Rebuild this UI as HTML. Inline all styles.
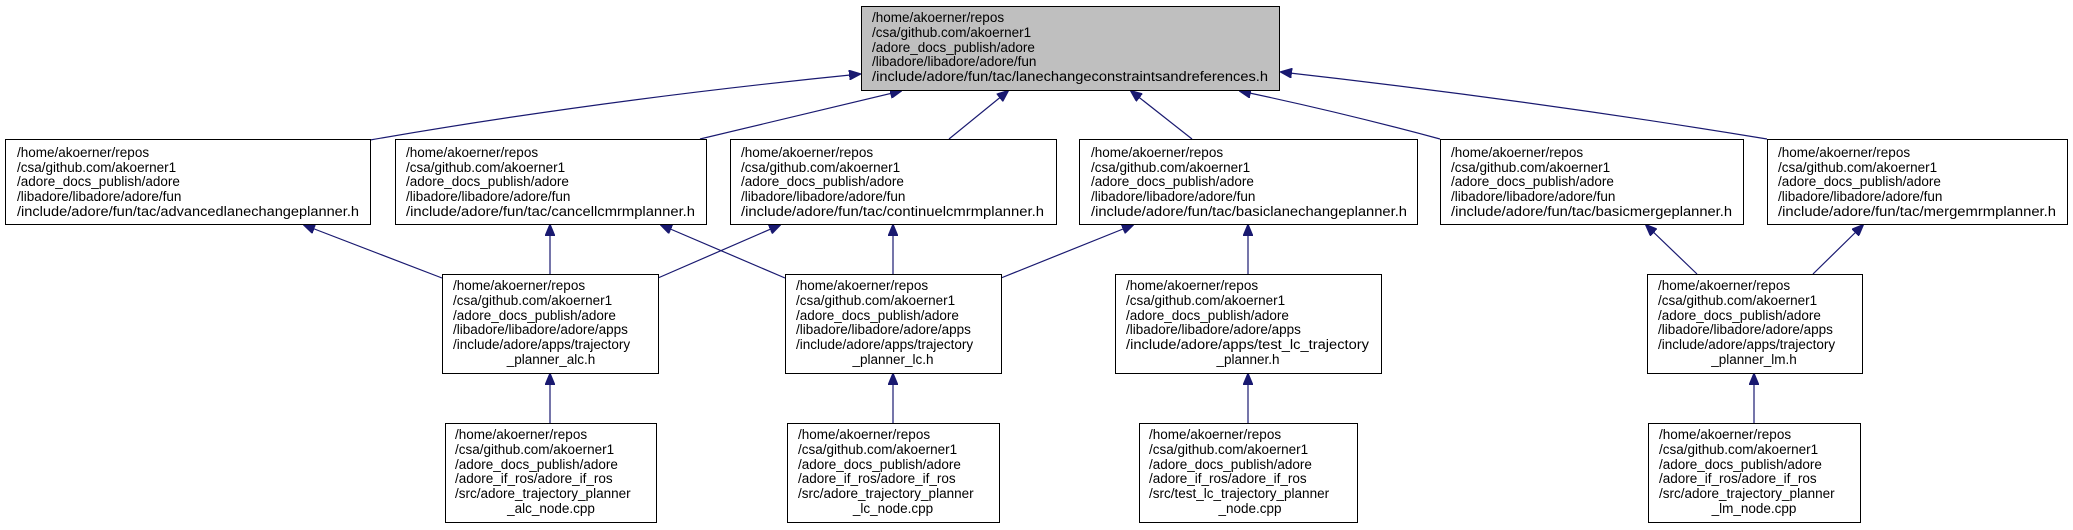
<!DOCTYPE html>
<html><head><meta charset="utf-8"><style>
html,body{margin:0;padding:0;background:#fff;}
svg text{font-family:"Liberation Sans","DejaVu Sans",sans-serif;font-size:13.5px;fill:#000;}
</style></head><body>
<svg width="2073" height="525" xmlns="http://www.w3.org/2000/svg">
<defs><marker id="a" markerWidth="12" markerHeight="10" refX="11" refY="5" orient="auto" markerUnits="userSpaceOnUse"><path d="M0,0 L12,5 L0,10 z" fill="#191970" stroke="#191970"/></marker></defs>
<g stroke="#191970" stroke-width="1.2" fill="none" marker-end="url(#a)">
<path d="M370,140 Q600,100 860,74"/>
<path d="M700,139 Q800,115 901,91"/>
<path d="M949,139 L1008,91"/>
<path d="M1192,139 L1131,91"/>
<path d="M1440,139 Q1340,112 1240,91"/>
<path d="M1767,139 Q1530,100 1281,72"/>
<path d="M442,278 L304,225"/>
<path d="M550,274 L550,225"/>
<path d="M785,278 L661,225"/>
<path d="M658,278 L780,225"/>
<path d="M893,274 L893,225"/>
<path d="M1001,278 L1133,225"/>
<path d="M1248,274 L1248,225"/>
<path d="M1697,274 L1646,225"/>
<path d="M1813,274 L1863,225"/>
<path d="M550,423 L550,374"/>
<path d="M893,423 L893,374"/>
<path d="M1248,423 L1248,374"/>
<path d="M1754,423 L1754,374"/>
</g>
<g stroke="#000" stroke-width="1">
<rect x="861.5" y="6.5" width="418" height="84" fill="#bfbfbf"/>
<rect x="5.5" y="139.5" width="365" height="85" fill="#fff"/>
<rect x="395.5" y="139.5" width="311" height="85" fill="#fff"/>
<rect x="730.5" y="139.5" width="326" height="85" fill="#fff"/>
<rect x="1079.5" y="139.5" width="338" height="85" fill="#fff"/>
<rect x="1440.5" y="139.5" width="303" height="85" fill="#fff"/>
<rect x="1767.5" y="139.5" width="300" height="85" fill="#fff"/>
<rect x="442.5" y="274.5" width="216" height="99" fill="#fff"/>
<rect x="785.5" y="274.5" width="216" height="99" fill="#fff"/>
<rect x="1115.5" y="274.5" width="266" height="99" fill="#fff"/>
<rect x="1647.5" y="274.5" width="215" height="99" fill="#fff"/>
<rect x="445.5" y="423.5" width="211" height="99" fill="#fff"/>
<rect x="787.5" y="423.5" width="212" height="99" fill="#fff"/>
<rect x="1139.5" y="423.5" width="218" height="99" fill="#fff"/>
<rect x="1648.5" y="423.5" width="212" height="99" fill="#fff"/>
</g>
<text x="872" y="22">/home/akoerner/repos</text><text x="872" y="37">/csa/github.com/akoerner1</text><text x="872" y="52">/adore_docs_publish/adore</text><text x="872" y="66">/libadore/libadore/adore/fun</text><text x="872" y="81" textLength="396" lengthAdjust="spacingAndGlyphs">/include/adore/fun/tac/lanechangeconstraintsandreferences.h</text>

<g>
<text x="17" y="157">/home/akoerner/repos</text><text x="17" y="172">/csa/github.com/akoerner1</text><text x="17" y="186">/adore_docs_publish/adore</text><text x="17" y="201">/libadore/libadore/adore/fun</text><text x="17" y="216" textLength="342" lengthAdjust="spacingAndGlyphs">/include/adore/fun/tac/advancedlanechangeplanner.h</text>
<text x="406" y="157">/home/akoerner/repos</text><text x="406" y="172">/csa/github.com/akoerner1</text><text x="406" y="186">/adore_docs_publish/adore</text><text x="406" y="201">/libadore/libadore/adore/fun</text><text x="406" y="216" textLength="289" lengthAdjust="spacingAndGlyphs">/include/adore/fun/tac/cancellcmrmplanner.h</text>
<text x="741" y="157">/home/akoerner/repos</text><text x="741" y="172">/csa/github.com/akoerner1</text><text x="741" y="186">/adore_docs_publish/adore</text><text x="741" y="201">/libadore/libadore/adore/fun</text><text x="741" y="216" textLength="303" lengthAdjust="spacingAndGlyphs">/include/adore/fun/tac/continuelcmrmplanner.h</text>
<text x="1091" y="157">/home/akoerner/repos</text><text x="1091" y="172">/csa/github.com/akoerner1</text><text x="1091" y="186">/adore_docs_publish/adore</text><text x="1091" y="201">/libadore/libadore/adore/fun</text><text x="1091" y="216" textLength="316" lengthAdjust="spacingAndGlyphs">/include/adore/fun/tac/basiclanechangeplanner.h</text>
<text x="1451" y="157">/home/akoerner/repos</text><text x="1451" y="172">/csa/github.com/akoerner1</text><text x="1451" y="186">/adore_docs_publish/adore</text><text x="1451" y="201">/libadore/libadore/adore/fun</text><text x="1451" y="216" textLength="281" lengthAdjust="spacingAndGlyphs">/include/adore/fun/tac/basicmergeplanner.h</text>
<text x="1778" y="157">/home/akoerner/repos</text><text x="1778" y="172">/csa/github.com/akoerner1</text><text x="1778" y="186">/adore_docs_publish/adore</text><text x="1778" y="201">/libadore/libadore/adore/fun</text><text x="1778" y="216" textLength="278" lengthAdjust="spacingAndGlyphs">/include/adore/fun/tac/mergemrmplanner.h</text>
</g>
<g>
<text x="453" y="290">/home/akoerner/repos</text><text x="453" y="305">/csa/github.com/akoerner1</text><text x="453" y="320">/adore_docs_publish/adore</text><text x="453" y="334">/libadore/libadore/adore/apps</text><text x="453" y="349">/include/adore/apps/trajectory</text><text x="551" y="364" text-anchor="middle">_planner_alc.h</text>
<text x="796" y="290">/home/akoerner/repos</text><text x="796" y="305">/csa/github.com/akoerner1</text><text x="796" y="320">/adore_docs_publish/adore</text><text x="796" y="334">/libadore/libadore/adore/apps</text><text x="796" y="349">/include/adore/apps/trajectory</text><text x="893" y="364" text-anchor="middle">_planner_lc.h</text>
<text x="1126" y="290">/home/akoerner/repos</text><text x="1126" y="305">/csa/github.com/akoerner1</text><text x="1126" y="320">/adore_docs_publish/adore</text><text x="1126" y="334">/libadore/libadore/adore/apps</text><text x="1126" y="349" textLength="243" lengthAdjust="spacingAndGlyphs">/include/adore/apps/test_lc_trajectory</text><text x="1248" y="364" text-anchor="middle">_planner.h</text>
<text x="1658" y="290">/home/akoerner/repos</text><text x="1658" y="305">/csa/github.com/akoerner1</text><text x="1658" y="320">/adore_docs_publish/adore</text><text x="1658" y="334">/libadore/libadore/adore/apps</text><text x="1658" y="349">/include/adore/apps/trajectory</text><text x="1754" y="364" text-anchor="middle">_planner_lm.h</text>
</g>
<g>
<text x="455" y="439">/home/akoerner/repos</text><text x="455" y="454">/csa/github.com/akoerner1</text><text x="455" y="469">/adore_docs_publish/adore</text><text x="455" y="483">/adore_if_ros/adore_if_ros</text><text x="455" y="498">/src/adore_trajectory_planner</text><text x="551" y="513" text-anchor="middle">_alc_node.cpp</text>
<text x="798" y="439">/home/akoerner/repos</text><text x="798" y="454">/csa/github.com/akoerner1</text><text x="798" y="469">/adore_docs_publish/adore</text><text x="798" y="483">/adore_if_ros/adore_if_ros</text><text x="798" y="498">/src/adore_trajectory_planner</text><text x="893" y="513" text-anchor="middle">_lc_node.cpp</text>
<text x="1149" y="439">/home/akoerner/repos</text><text x="1149" y="454">/csa/github.com/akoerner1</text><text x="1149" y="469">/adore_docs_publish/adore</text><text x="1149" y="483">/adore_if_ros/adore_if_ros</text><text x="1149" y="498">/src/test_lc_trajectory_planner</text><text x="1250" y="513" text-anchor="middle">_node.cpp</text>
<text x="1659" y="439">/home/akoerner/repos</text><text x="1659" y="454">/csa/github.com/akoerner1</text><text x="1659" y="469">/adore_docs_publish/adore</text><text x="1659" y="483">/adore_if_ros/adore_if_ros</text><text x="1659" y="498">/src/adore_trajectory_planner</text><text x="1754" y="513" text-anchor="middle">_lm_node.cpp</text>
</g>
</svg>
</body></html>
